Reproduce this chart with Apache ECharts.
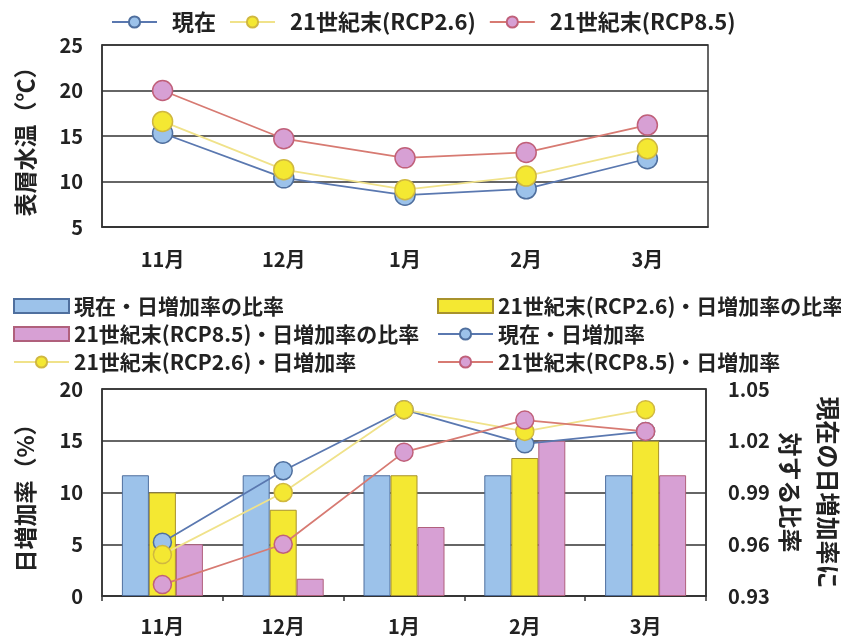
<!DOCTYPE html>
<html><head><meta charset="utf-8">
<script src="https://cdn.jsdelivr.net/npm/echarts@6/dist/echarts.min.js"></script>
<style>html,body{margin:0;padding:0;background:#fff}#c{width:841px;height:640px}</style>
</head><body><div id="c"></div>
<script>
const months = ['11月', '12月', '1月', '2月', '3月'];
// top: surface water temperature (°C)
const tempNow = [15.3, 10.4, 8.5, 9.2, 12.5];
const tempRcp26 = [16.6, 11.3, 9.1, 10.6, 13.6];
const tempRcp85 = [20.0, 14.7, 12.6, 13.2, 16.2];
// bottom bars: ratio to present daily growth rate
const ratioNow = [1.00, 1.00, 1.00, 1.00, 1.00];
const ratioRcp26 = [0.99, 0.98, 1.00, 1.01, 1.02];
const ratioRcp85 = [0.96, 0.94, 0.97, 1.02, 1.00];
// bottom lines: daily growth rate (%)
const rateNow = [5.2, 12.1, 18.0, 14.7, 15.9];
const rateRcp26 = [4.0, 10.0, 18.0, 15.9, 18.0];
const rateRcp85 = [1.1, 5.0, 13.9, 17.0, 15.9];

const FONT = '"Noto Sans CJK JP", "Noto Sans", sans-serif';
const TXT = '#222';
const GRID = '#333';

const C = {
  blue:   { fill: '#9cc2ea', border: '#4f6f9e', line: '#5a78b0' },
  yellow: { fill: '#f4e832', border: '#a8922c', line: '#f0e28a', mborder: '#d0b840' },
  pink:   { fill: '#d7a0d4', border: '#b0607c', line: '#d77a72', mborder: '#c0607a' }
};

function lineSeries(name, data, col, xi, yi, size) {
  return {
    name, type: 'line', data, xAxisIndex: xi, yAxisIndex: yi,
    symbol: 'circle', symbolSize: size,
    lineStyle: { color: col.line, width: 1.8 },
    itemStyle: { color: col.fill, borderColor: col.mborder || col.border, borderWidth: 1.5 },
    emphasis: { disabled: true }, z: 5
  };
}
function barSeries(name, data, col) {
  return {
    name, type: 'bar', data, xAxisIndex: 1, yAxisIndex: 2,
    barWidth: 27, barGap: '0%',
    itemStyle: { color: col.fill, borderColor: col.border, borderWidth: 1 },
    emphasis: { disabled: true }, z: 2
  };
}

const axisLabel = { color: TXT, fontFamily: FONT, fontSize: 20, fontWeight: 'bold' };
const nameStyle = { color: TXT, fontFamily: FONT, fontSize: 23, fontWeight: 'bold' };
const bottomLegendText = { color: TXT, fontFamily: FONT, fontSize: 21, fontWeight: 'bold', lineHeight: 22 };

const option = {
  animation: false,
  backgroundColor: '#fff',
  grid: [
    { left: 102, top: 45, width: 606, height: 182, show: true, borderColor: GRID, borderWidth: 1.5, containLabel: false, outerBoundsMode: 'none' },
    { left: 102, top: 389, width: 604, height: 207, show: true, borderColor: GRID, borderWidth: 1.5, containLabel: false, outerBoundsMode: 'none' }
  ],
  legend: [
    {
      left: 106, top: 6, itemWidth: 45, itemHeight: 14, itemGap: 13,
      textStyle: { color: TXT, fontFamily: FONT, fontSize: 22, fontWeight: 'bold', padding: [0, 0, 0, 10] },
      data: ['現在', '21世紀末(RCP2.6)', '21世紀末(RCP8.5)']
    },
    {
      left: 8, top: 290, orient: 'vertical', itemWidth: 55, itemHeight: 14, itemGap: 6,
      textStyle: bottomLegendText,
      data: [
        { name: '現在・日増加率の比率', icon: 'rect' },
        { name: '21世紀末(RCP8.5)・日増加率の比率', icon: 'rect' },
        '21世紀末(RCP2.6)・日増加率'
      ]
    },
    {
      left: 432, top: 290, orient: 'vertical', itemWidth: 55, itemHeight: 14, itemGap: 6,
      textStyle: bottomLegendText,
      data: [
        { name: '21世紀末(RCP2.6)・日増加率の比率', icon: 'rect' },
        '現在・日増加率',
        '21世紀末(RCP8.5)・日増加率'
      ]
    }
  ],
  xAxis: [
    {
      gridIndex: 0, type: 'category', data: months,
      axisLine: { lineStyle: { color: GRID, width: 1.5 } },
      axisTick: { show: false },
      axisLabel: Object.assign({ margin: 22 }, axisLabel)
    },
    {
      gridIndex: 1, type: 'category', data: months,
      axisLine: { lineStyle: { color: GRID, width: 1.5 } },
      axisTick: { show: true, length: 5, lineStyle: { color: GRID, width: 1.5 } },
      axisLabel: Object.assign({ margin: 20 }, axisLabel)
    }
  ],
  yAxis: [
    {
      gridIndex: 0, type: 'value', min: 5, max: 25, interval: 5,
      name: '表層水温（℃）', nameLocation: 'middle', nameRotate: 90, nameGap: 65, nameMoveOverlap: false,
      nameTextStyle: nameStyle,
      axisLine: { show: true, lineStyle: { color: GRID, width: 1.5 } },
      axisTick: { show: false },
      splitLine: { lineStyle: { color: GRID, width: 1.5 } },
      axisLabel: Object.assign({ margin: 19 }, axisLabel)
    },
    {
      gridIndex: 1, type: 'value', min: 0, max: 20, interval: 5,
      name: '日増加率（%）', nameLocation: 'middle', nameRotate: 90, nameGap: 65, nameMoveOverlap: false,
      nameTextStyle: nameStyle,
      axisLine: { show: true, lineStyle: { color: GRID, width: 1.5 } },
      axisTick: { show: false },
      splitLine: { lineStyle: { color: GRID, width: 1.5 } },
      axisLabel: Object.assign({ margin: 19 }, axisLabel)
    },
    {
      gridIndex: 1, type: 'value', position: 'right', min: 0.93, max: 1.05, interval: 0.03,
      startValue: 0.93,
      name: '現在の日増加率に\n対する比率', nameLocation: 'middle', nameRotate: -90, nameGap: 65, nameMoveOverlap: false,
      nameTextStyle: Object.assign({}, nameStyle, { fontSize: 24, lineHeight: 38 }),
      axisLine: { show: true, lineStyle: { color: GRID, width: 1.5 } },
      axisTick: { show: false },
      splitLine: { show: false },
      axisLabel: Object.assign({ margin: 22, formatter: v => v.toFixed(2) }, axisLabel)
    }
  ],
  series: [
    lineSeries('現在', tempNow, C.blue, 0, 0, 20),
    lineSeries('21世紀末(RCP2.6)', tempRcp26, C.yellow, 0, 0, 20),
    lineSeries('21世紀末(RCP8.5)', tempRcp85, C.pink, 0, 0, 20),
    barSeries('現在・日増加率の比率', ratioNow, C.blue),
    barSeries('21世紀末(RCP2.6)・日増加率の比率', ratioRcp26, C.yellow),
    barSeries('21世紀末(RCP8.5)・日増加率の比率', ratioRcp85, C.pink),
    lineSeries('現在・日増加率', rateNow, C.blue, 1, 1, 18),
    lineSeries('21世紀末(RCP2.6)・日増加率', rateRcp26, C.yellow, 1, 1, 18),
    lineSeries('21世紀末(RCP8.5)・日増加率', rateRcp85, C.pink, 1, 1, 18)
  ]
};
const chart = echarts.init(document.getElementById('c'), null, { renderer: 'canvas' });
chart.setOption(option);
</script>
</body></html>
